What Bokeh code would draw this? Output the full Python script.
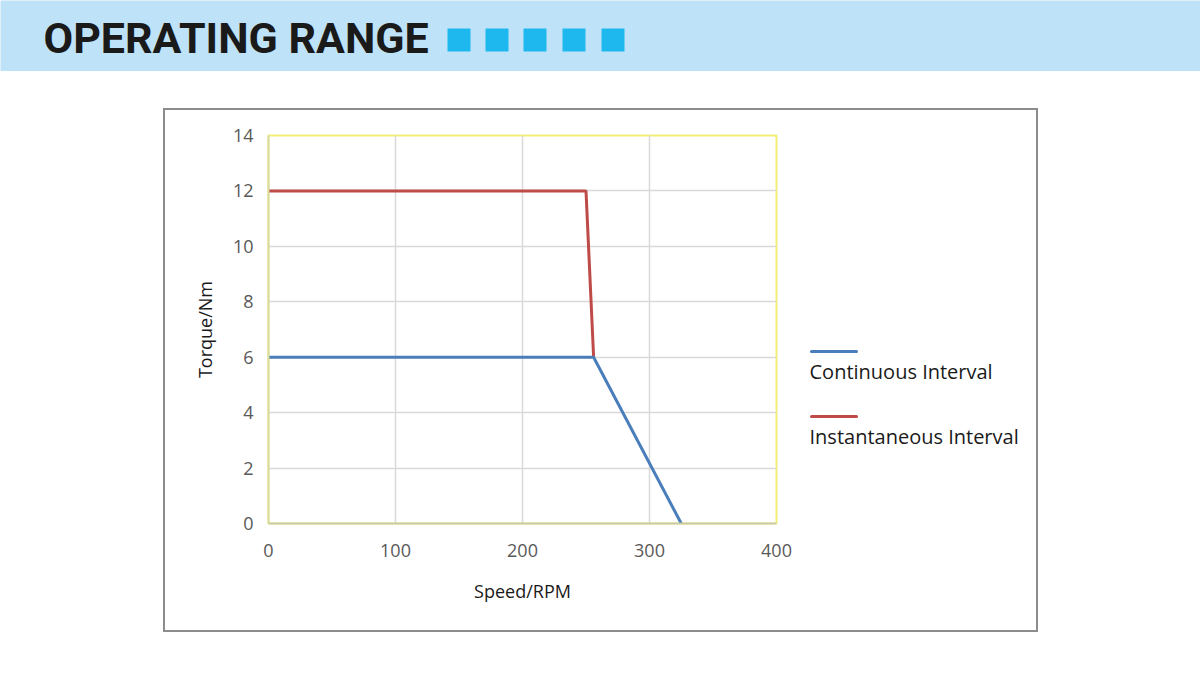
from bokeh.plotting import figure
from bokeh.models import Range1d, FixedTicker, Spacer
from bokeh.layouts import column, row
from bokeh.core.properties import value
from bokeh.embed import file_html
from bokeh.resources import INLINE

# ---- data ----
speed_cont = [0, 256, 325]
torque_cont = [6, 6, 0]
speed_inst = [0, 250, 256]
torque_inst = [12, 12, 6]
x_ticks = [0, 100, 200, 300, 400]
y_ticks = [0, 2, 4, 6, 8, 10, 12, 14]
title_text = "OPERATING RANGE"
legend_names = ["Continuous Interval", "Instantaneous Interval"]
x_label = "Speed/RPM"
y_label = "Torque/Nm"

BLUE = "#4A7EBB"
RED = "#BE4B48"
series_colors = [BLUE, RED]


def blank(fig):
    fig.xaxis.visible = False
    fig.yaxis.visible = False
    fig.xgrid.visible = False
    fig.ygrid.visible = False
    fig.outline_line_color = None


# ---- header band ----
header = figure(width=1200, height=71, output_backend="svg", toolbar_location=None,
                x_range=Range1d(0, 1200), y_range=Range1d(71, 0),
                min_border_left=0, min_border_right=0, min_border_top=0, min_border_bottom=0)
blank(header)
header.background_fill_color = "#BEE3F8"
header.border_fill_color = "#BEE3F8"
header.text(x=[43], y=[37], text=[title_text], text_font=value("Roboto"),
            text_font_style="bold", text_font_size="43px", text_color="#1a1a1a",
            text_baseline="middle", text_align="left")
sq_left = [447, 485, 523, 562, 601]
header.quad(left=sq_left, right=[v + 23 for v in sq_left], top=[28] * 5, bottom=[51] * 5,
            fill_color="#1EB8EE", line_color=None)

# ---- main chart ----
# content area of bordered box: x 165..1036, y 110..630 (reference pixels)
BT, BB = 25, 107
p = figure(width=635, height=520, output_backend="svg", toolbar_location=None,
           x_range=Range1d(0, 400), y_range=Range1d(0, 14),
           min_border_left=103, min_border_right=24,
           min_border_top=BT, min_border_bottom=BB)
p.background_fill_color = "white"
p.border_fill_color = "white"
p.outline_line_color = "#F2EF78"
p.outline_line_width = 2

p.xaxis.ticker = FixedTicker(ticks=x_ticks)
p.yaxis.ticker = FixedTicker(ticks=y_ticks)
for ax in (p.xaxis[0], p.yaxis[0]):
    ax.major_tick_line_color = None
    ax.minor_tick_line_color = None
    ax.major_label_text_font = "Open Sans"
    ax.major_label_text_font_size = "18px"
    ax.major_label_text_color = "#595959"
    ax.axis_label_text_font = "Open Sans"
    ax.axis_label_text_font_size = "18px"
    ax.axis_label_text_font_style = "normal"
    ax.axis_label_text_color = "#1a1a1a"
p.xaxis.axis_line_color = "#C9CBA9"
p.xaxis.axis_line_width = 2
p.yaxis.axis_line_color = "#D8DAA6"
p.yaxis.axis_line_width = 2
p.xaxis.major_label_standoff = 14
p.yaxis.major_label_standoff = 9
p.xaxis.axis_label = x_label
p.yaxis.axis_label = y_label
p.xaxis.axis_label_standoff = 19
p.yaxis.axis_label_standoff = 13

p.xgrid.grid_line_color = "#D9D9D9"
p.ygrid.grid_line_color = "#D9D9D9"
p.xgrid.grid_line_width = 1.5
p.ygrid.grid_line_width = 1.5

p.line(speed_inst, torque_inst, line_color=RED, line_width=3)
p.line(speed_cont, torque_cont, line_color=BLUE, line_width=3)

# ---- legend panel (frame aligned with the chart frame: y 135..523) ----
leg = figure(width=236, height=520, output_backend="svg", toolbar_location=None,
             x_range=Range1d(800, 1036), y_range=Range1d(523, 135),
             min_border_left=0, min_border_right=0, min_border_top=BT, min_border_bottom=BB)
blank(leg)
leg.background_fill_color = "white"
leg.border_fill_color = "white"
leg_y = [351, 416]
for name, col, ly in zip(legend_names, series_colors, leg_y):
    leg.line([811, 856], [ly, ly], line_color=col, line_width=3, line_cap="round")
    leg.text(x=[809], y=[ly + 20], text=[name], text_font=value("Open Sans"),
             text_font_size="20px", text_color="#1a1a1a", text_baseline="middle",
             text_align="left")

box = row(p, leg, styles={"border": "2px solid #8C8C8C"})
layout = column(header, Spacer(height=37, width=1200),
                row(Spacer(width=163, height=524), box))

open("out.html", "w").write(file_html(layout, INLINE))
